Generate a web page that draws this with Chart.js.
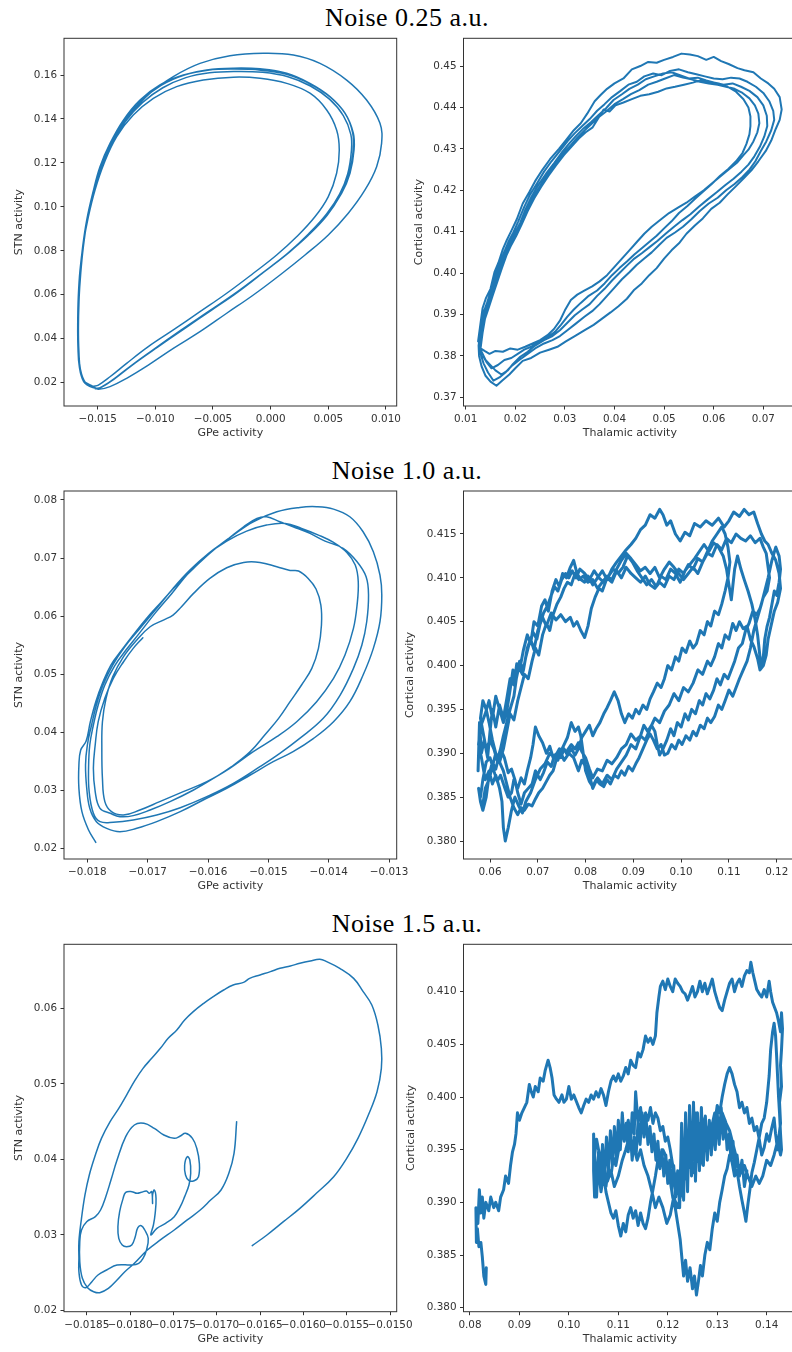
<!DOCTYPE html>
<html>
<head>
<meta charset="utf-8">
<script src="https://cdn.jsdelivr.net/npm/chart.js@4.4.0/dist/chart.umd.min.js"></script>
<style>
    html, body { margin: 0; padding: 0; background: #fff; overflow: hidden; }
    body { width: 792px; height: 1352px; position: relative; }
    .title { position: absolute; left: 0; width: 814px; text-align: center; font-family: "Liberation Serif", serif; font-size: 26px; line-height: 26px; letter-spacing: 0.5px; color: #000; }
    canvas { position: absolute; }
</style>
</head>
<body>
<div class="title" style="top:5px">Noise 0.25 a.u.</div>
<div class="title" style="top:458px">Noise 1.0 a.u.</div>
<div class="title" style="top:911px">Noise 1.5 a.u.</div>

<canvas id="p1" width="420" height="416" style="left:0;top:28px"></canvas>
<canvas id="p2" width="420" height="416" style="left:400px;top:28px"></canvas>
<canvas id="p3" width="420" height="416" style="left:0;top:481px"></canvas>
<canvas id="p4" width="420" height="416" style="left:400px;top:481px"></canvas>
<canvas id="p5" width="420" height="416" style="left:0;top:934px"></canvas>
<canvas id="p6" width="420" height="416" style="left:400px;top:934px"></canvas>

<script>
// ---- tick values ----
const ticksGpe025 = [-0.015, -0.010, -0.005, 0.000, 0.005, 0.010];
const ticksStn025 = [0.02, 0.04, 0.06, 0.08, 0.10, 0.12, 0.14, 0.16];
const ticksThal025 = [0.01, 0.02, 0.03, 0.04, 0.05, 0.06, 0.07];
const ticksCort025 = [0.37, 0.38, 0.39, 0.40, 0.41, 0.42, 0.43, 0.44, 0.45];
const ticksGpe100 = [-0.018, -0.017, -0.016, -0.015, -0.014, -0.013];
const ticksStn100 = [0.02, 0.03, 0.04, 0.05, 0.06, 0.07, 0.08];
const ticksThal100 = [0.06, 0.07, 0.08, 0.09, 0.10, 0.11, 0.12];
const ticksCort100 = [0.380, 0.385, 0.390, 0.395, 0.400, 0.405, 0.410, 0.415];
const ticksGpe150 = [-0.0185, -0.0180, -0.0175, -0.0170, -0.0165, -0.0160, -0.0155, -0.0150];
const ticksStn150 = [0.02, 0.03, 0.04, 0.05, 0.06];
const ticksThal150 = [0.08, 0.09, 0.10, 0.11, 0.12, 0.13, 0.14];
const ticksCort150 = [0.380, 0.385, 0.390, 0.395, 0.400, 0.405, 0.410];

// ---- noise 0.25: GPe vs STN (five loops) ----
const gpeStn025A = [[-0.01509,0.0174],[-0.01610,0.0197],[-0.01653,0.0258],[-0.01668,0.0349],[-0.01671,0.0455],[-0.01665,0.0576],[-0.01653,0.0698],[-0.01630,0.0819],[-0.01595,0.0940],[-0.01543,0.1062],[-0.01480,0.1183],[-0.01393,0.1289],[-0.01277,0.1395],[-0.01133,0.1486],[-0.00960,0.1555],[-0.00757,0.1600],[-0.00555,0.1623],[-0.00324,0.1631],[-0.00092,0.1628],[0.00139,0.1608],[0.00341,0.1562],[0.00514,0.1502],[0.00645,0.1426],[0.00717,0.1335],[0.00723,0.1259],[0.00688,0.1153],[0.00616,0.1062],[0.00500,0.0971],[0.00341,0.0880],[0.00168,0.0796],[-0.00035,0.0713],[-0.00266,0.0622],[-0.00497,0.0538],[-0.00728,0.0455],[-0.00960,0.0371],[-0.01162,0.0296],[-0.01335,0.0227],[-0.01451,0.0185],[-0.01509,0.0174]];
const gpeStn025B = [[-0.01610,0.0197],[-0.01653,0.0258],[-0.01665,0.0349],[-0.01668,0.0455],[-0.01662,0.0576],[-0.01647,0.0698],[-0.01624,0.0819],[-0.01590,0.0940],[-0.01538,0.1062],[-0.01465,0.1183],[-0.01364,0.1304],[-0.01220,0.1418],[-0.01046,0.1517],[-0.00844,0.1593],[-0.00613,0.1653],[-0.00353,0.1688],[-0.00064,0.1699],[0.00197,0.1691],[0.00428,0.1653],[0.00659,0.1577],[0.00832,0.1486],[0.00948,0.1380],[0.00962,0.1289],[0.00919,0.1183],[0.00818,0.1077],[0.00673,0.0971],[0.00500,0.0872],[0.00298,0.0781],[0.00081,0.0690],[-0.00150,0.0599],[-0.00381,0.0516],[-0.00613,0.0432],[-0.00844,0.0356],[-0.01061,0.0280],[-0.01249,0.0220],[-0.01393,0.0182],[-0.01494,0.0170]];
const gpeStn025C = [[-0.01538,0.0182],[-0.01624,0.0212],[-0.01659,0.0273],[-0.01671,0.0364],[-0.01673,0.0470],[-0.01668,0.0591],[-0.01653,0.0713],[-0.01624,0.0834],[-0.01581,0.0955],[-0.01523,0.1077],[-0.01445,0.1198],[-0.01335,0.1320],[-0.01191,0.1418],[-0.01017,0.1494],[-0.00815,0.1547],[-0.00584,0.1577],[-0.00324,0.1590],[-0.00092,0.1585],[0.00139,0.1562],[0.00341,0.1517],[0.00486,0.1441],[0.00572,0.1350],[0.00595,0.1259],[0.00572,0.1153],[0.00500,0.1047],[0.00384,0.0955],[0.00225,0.0864],[0.00052,0.0781],[-0.00150,0.0698],[-0.00381,0.0607],[-0.00613,0.0523],[-0.00844,0.0440],[-0.01061,0.0364],[-0.01249,0.0288],[-0.01393,0.0227],[-0.01494,0.0189],[-0.01538,0.0182]];
const gpeStn025D = [[-0.01523,0.0178],[-0.01605,0.0200],[-0.01650,0.0262],[-0.01665,0.0352],[-0.01668,0.0460],[-0.01662,0.0580],[-0.01648,0.0700],[-0.01625,0.0822],[-0.01588,0.0942],[-0.01535,0.1065],[-0.01470,0.1180],[-0.01380,0.1285],[-0.01260,0.1388],[-0.01110,0.1475],[-0.00935,0.1542],[-0.00735,0.1588],[-0.00530,0.1610],[-0.00300,0.1616],[-0.00070,0.1612],[0.00150,0.1592],[0.00345,0.1550],[0.00510,0.1490],[0.00630,0.1415],[0.00695,0.1330],[0.00700,0.1255],[0.00668,0.1150],[0.00598,0.1058],[0.00485,0.0968],[0.00330,0.0878],[0.00150,0.0790],[-0.00055,0.0705],[-0.00285,0.0612],[-0.00518,0.0528],[-0.00750,0.0445],[-0.00980,0.0362],[-0.01180,0.0288],[-0.01345,0.0222],[-0.01455,0.0184],[-0.01510,0.0175]];
const gpeStn025E = [[-0.01600,0.0195],[-0.01648,0.0255],[-0.01663,0.0345],[-0.01667,0.0450],[-0.01662,0.0570],[-0.01650,0.0692],[-0.01628,0.0812],[-0.01592,0.0935],[-0.01540,0.1058],[-0.01475,0.1178],[-0.01388,0.1286],[-0.01270,0.1392],[-0.01125,0.1482],[-0.00950,0.1553],[-0.00748,0.1600],[-0.00545,0.1622],[-0.00315,0.1627],[-0.00085,0.1622],[0.00145,0.1602],[0.00348,0.1558],[0.00520,0.1498],[0.00650,0.1422],[0.00712,0.1335],[0.00715,0.1255],[0.00680,0.1150],[0.00605,0.1055],[0.00490,0.0962],[0.00325,0.0870],[0.00140,0.0785],[-0.00070,0.0700],[-0.00305,0.0608],[-0.00545,0.0522],[-0.00775,0.0440],[-0.01005,0.0355],[-0.01200,0.0280],[-0.01360,0.0215],[-0.01465,0.0180],[-0.01520,0.0172]];

// ---- noise 0.25: thalamic vs cortical (five noisy loops) ----
const thalCort025A = [[0.0125,0.3835],[0.0130,0.3880],[0.0134,0.3915],[0.0141,0.3940],[0.0150,0.3962],[0.0158,0.4002],[0.0166,0.4025],[0.0175,0.4058],[0.0183,0.4080],[0.0192,0.4102],[0.0203,0.4130],[0.0215,0.4168],[0.0228,0.4195],[0.0240,0.4222],[0.0255,0.4250],[0.0270,0.4275],[0.0288,0.4300],[0.0303,0.4322],[0.0318,0.4345],[0.0332,0.4362],[0.0345,0.4385],[0.0360,0.4415],[0.0372,0.4430],[0.0385,0.4445],[0.0400,0.4458],[0.0418,0.4470],[0.0435,0.4492],[0.0452,0.4500],[0.0468,0.4510],[0.0485,0.4508],[0.0500,0.4515],[0.0518,0.4522],[0.0535,0.4530],[0.0552,0.4528],[0.0568,0.4524],[0.0585,0.4515],[0.0600,0.4522],[0.0615,0.4512],[0.0630,0.4505],[0.0648,0.4495],[0.0662,0.4490],[0.0680,0.4485],[0.0695,0.4470],[0.0710,0.4458],[0.0722,0.4445],[0.0733,0.4425],[0.0737,0.4395],[0.0733,0.4370],[0.0725,0.4348],[0.0716,0.4320],[0.0705,0.4295],[0.0690,0.4270],[0.0676,0.4248],[0.0660,0.4228],[0.0645,0.4210],[0.0628,0.4190],[0.0612,0.4170],[0.0595,0.4155],[0.0578,0.4132],[0.0562,0.4115],[0.0545,0.4095],[0.0530,0.4072],[0.0515,0.4055],[0.0500,0.4035],[0.0485,0.4012],[0.0470,0.3995],[0.0455,0.3975],[0.0440,0.3960],[0.0425,0.3938],[0.0408,0.3920],[0.0392,0.3905],[0.0375,0.3890],[0.0358,0.3875],[0.0340,0.3862],[0.0320,0.3848],[0.0302,0.3835],[0.0285,0.3822],[0.0268,0.3815],[0.0250,0.3808],[0.0232,0.3795],[0.0215,0.3788],[0.0200,0.3770],[0.0188,0.3755],[0.0175,0.3742],[0.0162,0.3728],[0.0150,0.3738],[0.0140,0.3752],[0.0132,0.3775],[0.0127,0.3800],[0.0126,0.3825]];
const thalCort025B = [[0.0131,0.3868],[0.0136,0.3905],[0.0143,0.3928],[0.0151,0.3958],[0.0160,0.3995],[0.0168,0.4020],[0.0178,0.4052],[0.0186,0.4075],[0.0196,0.4098],[0.0206,0.4125],[0.0218,0.4160],[0.0230,0.4190],[0.0243,0.4215],[0.0258,0.4245],[0.0273,0.4270],[0.0290,0.4295],[0.0305,0.4318],[0.0320,0.4338],[0.0335,0.4355],[0.0350,0.4372],[0.0365,0.4392],[0.0380,0.4408],[0.0395,0.4425],[0.0412,0.4440],[0.0428,0.4455],[0.0445,0.4462],[0.0460,0.4475],[0.0478,0.4482],[0.0495,0.4478],[0.0512,0.4488],[0.0530,0.4492],[0.0548,0.4485],[0.0565,0.4480],[0.0582,0.4475],[0.0600,0.4470],[0.0618,0.4468],[0.0635,0.4472],[0.0652,0.4470],[0.0668,0.4462],[0.0685,0.4450],[0.0700,0.4435],[0.0712,0.4415],[0.0720,0.4392],[0.0722,0.4370],[0.0716,0.4345],[0.0706,0.4318],[0.0695,0.4295],[0.0684,0.4270],[0.0672,0.4250],[0.0658,0.4232],[0.0642,0.4215],[0.0625,0.4200],[0.0608,0.4182],[0.0590,0.4168],[0.0572,0.4150],[0.0555,0.4130],[0.0538,0.4112],[0.0522,0.4098],[0.0505,0.4085],[0.0490,0.4068],[0.0475,0.4050],[0.0460,0.4035],[0.0445,0.4020],[0.0430,0.4002],[0.0415,0.3985],[0.0400,0.3965],[0.0385,0.3945],[0.0370,0.3925],[0.0355,0.3908],[0.0340,0.3895],[0.0322,0.3878],[0.0305,0.3862],[0.0290,0.3848],[0.0275,0.3838],[0.0258,0.3830],[0.0240,0.3818],[0.0222,0.3802],[0.0208,0.3790],[0.0192,0.3775],[0.0180,0.3760],[0.0168,0.3748],[0.0156,0.3740],[0.0145,0.3760],[0.0136,0.3782],[0.0130,0.3805],[0.0127,0.3822]];
const thalCort025C = [[0.0132,0.3860],[0.0137,0.3898],[0.0145,0.3925],[0.0153,0.3955],[0.0162,0.3990],[0.0170,0.4018],[0.0180,0.4048],[0.0189,0.4072],[0.0199,0.4095],[0.0210,0.4122],[0.0221,0.4155],[0.0233,0.4185],[0.0246,0.4212],[0.0262,0.4240],[0.0278,0.4265],[0.0293,0.4290],[0.0308,0.4312],[0.0323,0.4332],[0.0338,0.4350],[0.0353,0.4365],[0.0368,0.4382],[0.0383,0.4398],[0.0398,0.4418],[0.0415,0.4432],[0.0430,0.4445],[0.0447,0.4455],[0.0463,0.4468],[0.0480,0.4475],[0.0498,0.4482],[0.0515,0.4485],[0.0532,0.4478],[0.0550,0.4470],[0.0568,0.4472],[0.0585,0.4465],[0.0602,0.4460],[0.0620,0.4455],[0.0638,0.4458],[0.0655,0.4450],[0.0672,0.4440],[0.0688,0.4425],[0.0700,0.4405],[0.0707,0.4380],[0.0708,0.4355],[0.0702,0.4330],[0.0693,0.4305],[0.0682,0.4282],[0.0670,0.4262],[0.0656,0.4245],[0.0640,0.4228],[0.0623,0.4212],[0.0606,0.4195],[0.0588,0.4178],[0.0570,0.4160],[0.0553,0.4142],[0.0537,0.4128],[0.0520,0.4112],[0.0503,0.4095],[0.0487,0.4078],[0.0470,0.4062],[0.0455,0.4048],[0.0440,0.4035],[0.0425,0.4018],[0.0410,0.4000],[0.0395,0.3982],[0.0380,0.3962],[0.0365,0.3945],[0.0350,0.3925],[0.0335,0.3912],[0.0320,0.3898],[0.0305,0.3880],[0.0290,0.3862],[0.0275,0.3848],[0.0258,0.3838],[0.0240,0.3825],[0.0225,0.3810],[0.0210,0.3798],[0.0195,0.3780],[0.0185,0.3765],[0.0172,0.3755],[0.0160,0.3765],[0.0148,0.3780],[0.0140,0.3790],[0.0133,0.3808],[0.0128,0.3820]];
const thalCort025D = [[0.0133,0.3858],[0.0138,0.3895],[0.0146,0.3922],[0.0154,0.3952],[0.0163,0.3985],[0.0172,0.4015],[0.0181,0.4045],[0.0191,0.4070],[0.0201,0.4093],[0.0212,0.4120],[0.0223,0.4152],[0.0236,0.4182],[0.0250,0.4210],[0.0265,0.4238],[0.0280,0.4262],[0.0296,0.4288],[0.0311,0.4308],[0.0326,0.4328],[0.0340,0.4345],[0.0355,0.4362],[0.0370,0.4378],[0.0385,0.4392],[0.0400,0.4408],[0.0417,0.4420],[0.0433,0.4432],[0.0450,0.4442],[0.0468,0.4455],[0.0485,0.4462],[0.0502,0.4470],[0.0520,0.4478],[0.0538,0.4472],[0.0555,0.4468],[0.0572,0.4462],[0.0590,0.4458],[0.0608,0.4455],[0.0625,0.4450],[0.0642,0.4445],[0.0658,0.4435],[0.0672,0.4422],[0.0683,0.4405],[0.0690,0.4385],[0.0692,0.4362],[0.0688,0.4340],[0.0680,0.4318],[0.0670,0.4298],[0.0660,0.4285],[0.0648,0.4268],[0.0632,0.4252],[0.0615,0.4235],[0.0598,0.4218],[0.0580,0.4200],[0.0562,0.4185],[0.0545,0.4170],[0.0528,0.4158],[0.0510,0.4145],[0.0492,0.4128],[0.0475,0.4112],[0.0460,0.4095],[0.0445,0.4075],[0.0430,0.4055],[0.0415,0.4035],[0.0400,0.4015],[0.0385,0.3995],[0.0370,0.3980],[0.0355,0.3968],[0.0340,0.3958],[0.0325,0.3948],[0.0312,0.3935],[0.0300,0.3910],[0.0290,0.3885],[0.0278,0.3865],[0.0265,0.3850],[0.0250,0.3838],[0.0235,0.3830],[0.0220,0.3822],[0.0205,0.3815],[0.0190,0.3818],[0.0175,0.3810],[0.0160,0.3812],[0.0148,0.3805],[0.0138,0.3812],[0.0130,0.3818]];
const thalCort025E = [[0.0134,0.3855],[0.0139,0.3890],[0.0147,0.3918],[0.0155,0.3948],[0.0164,0.3980],[0.0173,0.4012],[0.0182,0.4042],[0.0192,0.4068],[0.0202,0.4090],[0.0213,0.4118],[0.0225,0.4150],[0.0238,0.4180],[0.0252,0.4208],[0.0267,0.4235],[0.0282,0.4260],[0.0298,0.4285],[0.0313,0.4305],[0.0328,0.4325],[0.0342,0.4340],[0.0356,0.4352],[0.0368,0.4375],[0.0378,0.4395],[0.0390,0.4390],[0.0402,0.4405],[0.0418,0.4412],[0.0435,0.4420],[0.0452,0.4428],[0.0470,0.4432],[0.0488,0.4438],[0.0505,0.4446],[0.0522,0.4450],[0.0540,0.4455],[0.0558,0.4460],[0.0575,0.4466],[0.0592,0.4462],[0.0610,0.4458],[0.0628,0.4450],[0.0645,0.4438],[0.0660,0.4420],[0.0670,0.4400],[0.0674,0.4378],[0.0674,0.4355],[0.0672,0.4335],[0.0666,0.4312],[0.0658,0.4290],[0.0645,0.4270],[0.0630,0.4252],[0.0613,0.4235],[0.0596,0.4215],[0.0580,0.4198],[0.0563,0.4180],[0.0547,0.4162],[0.0530,0.4145],[0.0515,0.4125],[0.0500,0.4108],[0.0485,0.4090],[0.0470,0.4075],[0.0455,0.4060],[0.0440,0.4045],[0.0425,0.4028],[0.0410,0.4012],[0.0395,0.3995],[0.0380,0.3975],[0.0365,0.3958],[0.0348,0.3945],[0.0332,0.3928],[0.0318,0.3912],[0.0305,0.3895],[0.0292,0.3875],[0.0280,0.3858],[0.0265,0.3845],[0.0248,0.3835],[0.0232,0.3822],[0.0218,0.3815],[0.0205,0.3805],[0.0192,0.3795],[0.0178,0.3790],[0.0165,0.3778],[0.0152,0.3770],[0.0142,0.3785],[0.0135,0.3800]];

// ---- noise 1.0: GPe vs STN (one trajectory) ----
const gpeStn100 = [[-0.01786,0.02103],[-0.01798,0.02316],[-0.01809,0.02631],[-0.01814,0.03033],[-0.01814,0.03435],[-0.01811,0.03693],[-0.01802,0.03848],[-0.01795,0.04181],[-0.01786,0.04526],[-0.01775,0.04841],[-0.01761,0.05157],[-0.01743,0.05415],[-0.01724,0.05674],[-0.01702,0.05961],[-0.01677,0.06248],[-0.01652,0.06535],[-0.01624,0.06822],[-0.01591,0.07137],[-0.01558,0.07396],[-0.01525,0.07625],[-0.01486,0.07797],[-0.01448,0.07872],[-0.01420,0.07884],[-0.01392,0.07843],[-0.01365,0.07711],[-0.01343,0.07453],[-0.01326,0.07109],[-0.01315,0.06707],[-0.01312,0.06362],[-0.01315,0.05903],[-0.01326,0.05444],[-0.01343,0.04985],[-0.01365,0.04526],[-0.01392,0.04181],[-0.01425,0.03894],[-0.01459,0.03665],[-0.01492,0.03492],[-0.01530,0.03263],[-0.01569,0.03033],[-0.01608,0.02832],[-0.01646,0.02631],[-0.01685,0.02459],[-0.01718,0.02344],[-0.01746,0.02287],[-0.01768,0.02344],[-0.01785,0.02459],[-0.01796,0.02689],[-0.01801,0.03033],[-0.01803,0.03435],[-0.01800,0.03779],[-0.01793,0.04124],[-0.01785,0.04468],[-0.01774,0.04813],[-0.01758,0.05157],[-0.01738,0.05473],[-0.01713,0.05788],[-0.01685,0.06133],[-0.01658,0.06477],[-0.01630,0.06793],[-0.01599,0.07080],[-0.01569,0.07310],[-0.01541,0.07539],[-0.01519,0.07683],[-0.01503,0.07711],[-0.01481,0.07625],[-0.01459,0.07539],[-0.01431,0.07424],[-0.01406,0.07292],[-0.01376,0.07166],[-0.01353,0.06936],[-0.01338,0.06678],[-0.01334,0.06362],[-0.01337,0.05903],[-0.01345,0.05502],[-0.01359,0.05100],[-0.01381,0.04640],[-0.01409,0.04239],[-0.01448,0.03894],[-0.01481,0.03636],[-0.01514,0.03406],[-0.01558,0.03119],[-0.01602,0.02890],[-0.01646,0.02700],[-0.01685,0.02574],[-0.01724,0.02488],[-0.01757,0.02448],[-0.01779,0.02459],[-0.01790,0.02603],[-0.01797,0.02976],[-0.01798,0.03378],[-0.01796,0.03779],[-0.01790,0.04124],[-0.01782,0.04468],[-0.01771,0.04813],[-0.01755,0.05140],[-0.01736,0.05415],[-0.01714,0.05702],[-0.01688,0.06047],[-0.01660,0.06391],[-0.01633,0.06736],[-0.01602,0.07051],[-0.01569,0.07292],[-0.01536,0.07464],[-0.01503,0.07568],[-0.01472,0.07597],[-0.01445,0.07510],[-0.01417,0.07396],[-0.01392,0.07269],[-0.01370,0.07097],[-0.01356,0.06879],[-0.01351,0.06592],[-0.01353,0.06190],[-0.01359,0.05788],[-0.01373,0.05329],[-0.01392,0.04927],[-0.01420,0.04526],[-0.01453,0.04181],[-0.01486,0.03923],[-0.01525,0.03665],[-0.01564,0.03378],[-0.01602,0.03148],[-0.01641,0.02976],[-0.01680,0.02804],[-0.01713,0.02660],[-0.01740,0.02574],[-0.01760,0.02631],[-0.01771,0.02804],[-0.01775,0.03205],[-0.01776,0.03722],[-0.01775,0.04181],[-0.01769,0.04583],[-0.01758,0.04956],[-0.01740,0.05301],[-0.01718,0.05588],[-0.01696,0.05817],[-0.01674,0.05932],[-0.01658,0.06018],[-0.01644,0.06162],[-0.01624,0.06391],[-0.01597,0.06649],[-0.01569,0.06833],[-0.01541,0.06925],[-0.01514,0.06925],[-0.01486,0.06850],[-0.01464,0.06787],[-0.01450,0.06776],[-0.01434,0.06649],[-0.01421,0.06466],[-0.01413,0.06190],[-0.01412,0.05846],[-0.01417,0.05444],[-0.01428,0.05100],[-0.01445,0.04813],[-0.01464,0.04526],[-0.01483,0.04239],[-0.01506,0.03952],[-0.01530,0.03665],[-0.01561,0.03406],[-0.01591,0.03205],[-0.01624,0.03005],[-0.01663,0.02804],[-0.01696,0.02660],[-0.01724,0.02563],[-0.01746,0.02545],[-0.01762,0.02603],[-0.01779,0.02689],[-0.01787,0.02976],[-0.01790,0.03378],[-0.01787,0.03779],[-0.01782,0.04181],[-0.01771,0.04583],[-0.01757,0.04927],[-0.01740,0.05214],[-0.01724,0.05444],[-0.01708,0.05628]];

// ---- noise 1.0: thalamic vs cortical (four noisy loops) ----
const thalCort100A = [[0.0575,0.3880],[0.0578,0.3935],[0.0582,0.3900],[0.0588,0.3915],[0.0595,0.3895],[0.0600,0.3925],[0.0605,0.3950],[0.0612,0.3930],[0.0620,0.3955],[0.0628,0.3940],[0.0635,0.3962],[0.0642,0.3985],[0.0650,0.3978],[0.0656,0.4002],[0.0662,0.3995],[0.0670,0.4018],[0.0678,0.4035],[0.0685,0.4025],[0.0692,0.4050],[0.0700,0.4045],[0.0708,0.4068],[0.0715,0.4075],[0.0722,0.4062],[0.0730,0.4085],[0.0738,0.4098],[0.0745,0.4090],[0.0752,0.4105],[0.0760,0.4100],[0.0768,0.4112],[0.0775,0.4120],[0.0782,0.4105],[0.0790,0.4098],[0.0798,0.4095],[0.0805,0.4102],[0.0815,0.4092],[0.0825,0.4100],[0.0835,0.4108],[0.0845,0.4098],[0.0855,0.4110],[0.0865,0.4118],[0.0875,0.4125],[0.0885,0.4132],[0.0895,0.4138],[0.0905,0.4145],[0.0915,0.4155],[0.0925,0.4160],[0.0935,0.4172],[0.0945,0.4168],[0.0955,0.4178],[0.0962,0.4172],[0.0970,0.4160],[0.0978,0.4165],[0.0988,0.4150],[0.0998,0.4142],[0.1008,0.4152],[0.1018,0.4148],[0.1028,0.4162],[0.1040,0.4158],[0.1052,0.4165],[0.1065,0.4160],[0.1078,0.4168],[0.1090,0.4158],[0.1100,0.4165],[0.1110,0.4175],[0.1122,0.4170],[0.1132,0.4178],[0.1142,0.4172],[0.1152,0.4175],[0.1160,0.4162],[0.1168,0.4150],[0.1175,0.4142],[0.1182,0.4138],[0.1190,0.4128],[0.1198,0.4120],[0.1205,0.4105],[0.1208,0.4088],[0.1202,0.4072],[0.1195,0.4062],[0.1188,0.4045],[0.1182,0.4030],[0.1178,0.4012],[0.1172,0.4000],[0.1165,0.3995],[0.1160,0.4008],[0.1152,0.4022],[0.1145,0.4030],[0.1138,0.4045],[0.1130,0.4042],[0.1122,0.4050],[0.1115,0.4040],[0.1108,0.4048],[0.1100,0.4030],[0.1092,0.4035],[0.1085,0.4020],[0.1078,0.4025],[0.1070,0.4010],[0.1062,0.4000],[0.1055,0.4005],[0.1045,0.3990],[0.1035,0.3995],[0.1025,0.3980],[0.1015,0.3970],[0.1005,0.3975],[0.0995,0.3960],[0.0985,0.3968],[0.0975,0.3955],[0.0965,0.3948],[0.0955,0.3935],[0.0945,0.3940],[0.0935,0.3928],[0.0925,0.3915],[0.0915,0.3920],[0.0905,0.3905],[0.0895,0.3910],[0.0885,0.3898],[0.0875,0.3890],[0.0865,0.3882],[0.0855,0.3870],[0.0845,0.3875],[0.0835,0.3865],[0.0825,0.3872],[0.0815,0.3860],[0.0808,0.3875],[0.0800,0.3885],[0.0792,0.3892],[0.0785,0.3880],[0.0775,0.3895],[0.0765,0.3900],[0.0755,0.3892],[0.0745,0.3905],[0.0735,0.3895],[0.0725,0.3900],[0.0715,0.3888],[0.0705,0.3882],[0.0695,0.3870],[0.0685,0.3855],[0.0675,0.3845],[0.0668,0.3832],[0.0660,0.3840],[0.0652,0.3850],[0.0645,0.3835],[0.0638,0.3815],[0.0632,0.3800],[0.0628,0.3815],[0.0625,0.3845],[0.0620,0.3860],[0.0612,0.3875],[0.0605,0.3865],[0.0598,0.3880],[0.0590,0.3870],[0.0582,0.3895],[0.0576,0.3910]];
const thalCort100B = [[0.0580,0.3930],[0.0590,0.3945],[0.0598,0.3960],[0.0605,0.3940],[0.0612,0.3965],[0.0620,0.3950],[0.0628,0.3935],[0.0635,0.3948],[0.0642,0.3972],[0.0648,0.3995],[0.0655,0.3988],[0.0662,0.4005],[0.0670,0.3995],[0.0678,0.4020],[0.0685,0.4030],[0.0692,0.4018],[0.0700,0.4040],[0.0710,0.4055],[0.0718,0.4045],[0.0728,0.4060],[0.0738,0.4052],[0.0748,0.4058],[0.0758,0.4050],[0.0768,0.4055],[0.0775,0.4045],[0.0782,0.4050],[0.0790,0.4040],[0.0798,0.4032],[0.0805,0.4045],[0.0812,0.4065],[0.0820,0.4078],[0.0828,0.4088],[0.0835,0.4085],[0.0845,0.4100],[0.0855,0.4095],[0.0865,0.4108],[0.0875,0.4100],[0.0885,0.4112],[0.0895,0.4105],[0.0905,0.4100],[0.0915,0.4095],[0.0925,0.4102],[0.0935,0.4092],[0.0945,0.4088],[0.0955,0.4095],[0.0965,0.4090],[0.0975,0.4102],[0.0985,0.4098],[0.0995,0.4110],[0.1005,0.4105],[0.1015,0.4115],[0.1025,0.4110],[0.1035,0.4122],[0.1045,0.4118],[0.1055,0.4128],[0.1065,0.4125],[0.1075,0.4138],[0.1085,0.4132],[0.1095,0.4145],[0.1105,0.4140],[0.1115,0.4150],[0.1125,0.4145],[0.1135,0.4142],[0.1145,0.4148],[0.1155,0.4140],[0.1165,0.4145],[0.1172,0.4135],[0.1178,0.4128],[0.1182,0.4112],[0.1185,0.4100],[0.1180,0.4085],[0.1172,0.4078],[0.1165,0.4065],[0.1158,0.4058],[0.1150,0.4062],[0.1142,0.4048],[0.1135,0.4040],[0.1128,0.4025],[0.1120,0.4020],[0.1112,0.4005],[0.1105,0.3995],[0.1098,0.3985],[0.1090,0.3990],[0.1082,0.3978],[0.1075,0.3985],[0.1068,0.3972],[0.1060,0.3962],[0.1052,0.3968],[0.1045,0.3955],[0.1038,0.3960],[0.1030,0.3945],[0.1022,0.3950],[0.1015,0.3938],[0.1008,0.3945],[0.1000,0.3930],[0.0992,0.3935],[0.0985,0.3920],[0.0978,0.3928],[0.0970,0.3915],[0.0962,0.3905],[0.0955,0.3898],[0.0950,0.3910],[0.0945,0.3925],[0.0938,0.3932],[0.0930,0.3925],[0.0922,0.3932],[0.0915,0.3920],[0.0905,0.3915],[0.0895,0.3922],[0.0885,0.3910],[0.0875,0.3905],[0.0865,0.3895],[0.0855,0.3888],[0.0845,0.3892],[0.0835,0.3880],[0.0825,0.3882],[0.0815,0.3872],[0.0808,0.3882],[0.0800,0.3895],[0.0792,0.3902],[0.0785,0.3912],[0.0778,0.3905],[0.0770,0.3910],[0.0760,0.3902],[0.0750,0.3905],[0.0742,0.3892],[0.0735,0.3898],[0.0728,0.3885],[0.0720,0.3890],[0.0712,0.3878],[0.0705,0.3870],[0.0695,0.3880],[0.0688,0.3865],[0.0680,0.3860],[0.0672,0.3855],[0.0665,0.3842],[0.0658,0.3855],[0.0652,0.3870],[0.0645,0.3882],[0.0638,0.3878],[0.0630,0.3895],[0.0622,0.3905],[0.0615,0.3892],[0.0608,0.3905],[0.0600,0.3915],[0.0592,0.3905],[0.0585,0.3925],[0.0580,0.3940]];
const thalCort100C = [[0.0585,0.3960],[0.0592,0.3950],[0.0598,0.3935],[0.0605,0.3915],[0.0612,0.3900],[0.0620,0.3890],[0.0628,0.3905],[0.0635,0.3925],[0.0642,0.3945],[0.0650,0.3938],[0.0658,0.3960],[0.0665,0.3975],[0.0672,0.3990],[0.0680,0.3985],[0.0688,0.4005],[0.0695,0.4020],[0.0702,0.4012],[0.0710,0.4035],[0.0718,0.4048],[0.0725,0.4040],[0.0732,0.4058],[0.0740,0.4070],[0.0748,0.4078],[0.0755,0.4088],[0.0762,0.4095],[0.0770,0.4092],[0.0778,0.4105],[0.0786,0.4098],[0.0795,0.4102],[0.0805,0.4095],[0.0815,0.4098],[0.0825,0.4088],[0.0835,0.4095],[0.0845,0.4102],[0.0855,0.4098],[0.0865,0.4110],[0.0875,0.4120],[0.0885,0.4128],[0.0895,0.4122],[0.0905,0.4115],[0.0915,0.4108],[0.0925,0.4112],[0.0935,0.4105],[0.0945,0.4112],[0.0955,0.4100],[0.0965,0.4110],[0.0975,0.4118],[0.0985,0.4112],[0.0995,0.4105],[0.1005,0.4098],[0.1015,0.4105],[0.1025,0.4112],[0.1035,0.4105],[0.1045,0.4118],[0.1055,0.4130],[0.1065,0.4142],[0.1075,0.4150],[0.1085,0.4158],[0.1092,0.4150],[0.1098,0.4135],[0.1102,0.4118],[0.1098,0.4100],[0.1092,0.4085],[0.1085,0.4070],[0.1078,0.4058],[0.1070,0.4062],[0.1062,0.4045],[0.1055,0.4050],[0.1048,0.4035],[0.1040,0.4040],[0.1032,0.4025],[0.1025,0.4020],[0.1018,0.4028],[0.1010,0.4015],[0.1002,0.4020],[0.0995,0.4005],[0.0988,0.4010],[0.0980,0.3995],[0.0972,0.4000],[0.0965,0.3985],[0.0958,0.3975],[0.0950,0.3980],[0.0942,0.3970],[0.0935,0.3962],[0.0928,0.3950],[0.0920,0.3955],[0.0912,0.3945],[0.0905,0.3950],[0.0898,0.3940],[0.0890,0.3945],[0.0882,0.3935],[0.0875,0.3945],[0.0868,0.3960],[0.0860,0.3970],[0.0852,0.3960],[0.0845,0.3952],[0.0838,0.3945],[0.0830,0.3935],[0.0822,0.3928],[0.0815,0.3920],[0.0808,0.3932],[0.0800,0.3925],[0.0792,0.3918],[0.0785,0.3905],[0.0778,0.3898],[0.0770,0.3905],[0.0762,0.3898],[0.0755,0.3905],[0.0748,0.3895],[0.0740,0.3900],[0.0732,0.3895],[0.0725,0.3908],[0.0718,0.3900],[0.0710,0.3912],[0.0702,0.3920],[0.0695,0.3930],[0.0690,0.3910],[0.0685,0.3895],[0.0678,0.3880],[0.0672,0.3865],[0.0665,0.3872],[0.0658,0.3860],[0.0650,0.3870],[0.0645,0.3855],[0.0638,0.3850],[0.0630,0.3862],[0.0622,0.3875],[0.0615,0.3868],[0.0608,0.3880],[0.0600,0.3895],[0.0592,0.3890],[0.0585,0.3870],[0.0580,0.3850],[0.0576,0.3860]];
const thalCort100D = [[0.0580,0.3845],[0.0585,0.3835],[0.0592,0.3850],[0.0598,0.3875],[0.0605,0.3890],[0.0612,0.3882],[0.0620,0.3900],[0.0628,0.3920],[0.0635,0.3935],[0.0642,0.3950],[0.0650,0.3965],[0.0655,0.3985],[0.0660,0.3998],[0.0668,0.3990],[0.0675,0.4010],[0.0682,0.4025],[0.0690,0.4038],[0.0698,0.4030],[0.0705,0.4048],[0.0712,0.4060],[0.0720,0.4068],[0.0728,0.4080],[0.0735,0.4090],[0.0742,0.4085],[0.0750,0.4098],[0.0758,0.4105],[0.0765,0.4100],[0.0772,0.4108],[0.0780,0.4100],[0.0788,0.4110],[0.0798,0.4105],[0.0808,0.4098],[0.0818,0.4108],[0.0828,0.4100],[0.0838,0.4095],[0.0848,0.4102],[0.0858,0.4110],[0.0868,0.4105],[0.0878,0.4112],[0.0888,0.4125],[0.0898,0.4118],[0.0908,0.4108],[0.0918,0.4100],[0.0928,0.4092],[0.0938,0.4098],[0.0948,0.4090],[0.0958,0.4102],[0.0968,0.4098],[0.0978,0.4110],[0.0988,0.4105],[0.0998,0.4095],[0.1008,0.4108],[0.1018,0.4115],[0.1028,0.4122],[0.1038,0.4130],[0.1048,0.4138],[0.1058,0.4130],[0.1068,0.4140],[0.1078,0.4135],[0.1088,0.4125],[0.1095,0.4110],[0.1100,0.4092],[0.1105,0.4075],[0.1108,0.4090],[0.1112,0.4110],[0.1118,0.4125],[0.1125,0.4110],[0.1132,0.4098],[0.1140,0.4085],[0.1148,0.4070],[0.1155,0.4052],[0.1160,0.4035],[0.1165,0.4010],[0.1168,0.3998],[0.1172,0.4010],[0.1175,0.4030],[0.1180,0.4045],[0.1185,0.4055],[0.1190,0.4070],[0.1195,0.4085],[0.1200,0.4080],[0.1205,0.4095],[0.1208,0.4110],[0.1205,0.4125],[0.1198,0.4135],[0.1190,0.4120],[0.1182,0.4100],[0.1175,0.4085],[0.1168,0.4070],[0.1160,0.4055],[0.1152,0.4040],[0.1145,0.4020],[0.1138,0.4005],[0.1130,0.3995],[0.1122,0.3985],[0.1115,0.3975],[0.1108,0.3965],[0.1100,0.3972],[0.1092,0.3960],[0.1085,0.3950],[0.1078,0.3955],[0.1070,0.3942],[0.1062,0.3935],[0.1055,0.3940],[0.1048,0.3928],[0.1040,0.3932],[0.1032,0.3920],[0.1025,0.3925],[0.1018,0.3915],[0.1010,0.3920],[0.1002,0.3910],[0.0995,0.3915],[0.0988,0.3905],[0.0980,0.3910],[0.0972,0.3900],[0.0965,0.3898],[0.0958,0.3910],[0.0950,0.3905],[0.0942,0.3915],[0.0935,0.3922],[0.0928,0.3915],[0.0920,0.3905],[0.0912,0.3895],[0.0905,0.3888],[0.0898,0.3880],[0.0890,0.3885],[0.0882,0.3875],[0.0875,0.3880],[0.0868,0.3872],[0.0860,0.3875],[0.0852,0.3865],[0.0845,0.3870],[0.0838,0.3862],[0.0830,0.3865],[0.0822,0.3870],[0.0815,0.3862],[0.0808,0.3868],[0.0800,0.3880],[0.0795,0.3900],[0.0790,0.3920],[0.0785,0.3930],[0.0778,0.3925],[0.0770,0.3935],[0.0762,0.3918],[0.0755,0.3910],[0.0748,0.3902],[0.0740,0.3895],[0.0732,0.3880],[0.0725,0.3875],[0.0718,0.3868],[0.0710,0.3860],[0.0702,0.3855],[0.0695,0.3848],[0.0688,0.3840],[0.0680,0.3842],[0.0672,0.3835],[0.0665,0.3838],[0.0658,0.3830],[0.0650,0.3838],[0.0642,0.3850],[0.0635,0.3865],[0.0628,0.3880],[0.0620,0.3890],[0.0612,0.3900],[0.0605,0.3885],[0.0598,0.3870],[0.0590,0.3860],[0.0584,0.3838],[0.0580,0.3845]];

// ---- noise 1.5: GPe vs STN (one trajectory) ----
const gpeStn150 = [[-0.01677,0.04499],[-0.01680,0.04079],[-0.01686,0.03815],[-0.01695,0.03594],[-0.01707,0.03461],[-0.01719,0.03329],[-0.01734,0.03197],[-0.01749,0.03064],[-0.01765,0.02932],[-0.01780,0.02799],[-0.01795,0.02623],[-0.01806,0.02512],[-0.01815,0.02402],[-0.01825,0.02291],[-0.01835,0.02234],[-0.01842,0.02247],[-0.01849,0.02300],[-0.01855,0.02424],[-0.01858,0.02645],[-0.01858,0.02909],[-0.01856,0.03064],[-0.01850,0.03174],[-0.01840,0.03241],[-0.01834,0.03329],[-0.01828,0.03506],[-0.01822,0.03726],[-0.01815,0.03991],[-0.01805,0.04300],[-0.01795,0.04455],[-0.01784,0.04477],[-0.01772,0.04411],[-0.01761,0.04322],[-0.01749,0.04278],[-0.01742,0.04309],[-0.01736,0.04344],[-0.01728,0.04278],[-0.01723,0.04146],[-0.01720,0.03947],[-0.01721,0.03770],[-0.01726,0.03717],[-0.01732,0.03717],[-0.01736,0.03793],[-0.01737,0.03925],[-0.01734,0.04035],[-0.01731,0.03991],[-0.01730,0.03815],[-0.01732,0.03660],[-0.01737,0.03506],[-0.01742,0.03373],[-0.01749,0.03241],[-0.01759,0.03152],[-0.01769,0.03086],[-0.01776,0.02998],[-0.01773,0.03130],[-0.01771,0.03285],[-0.01770,0.03483],[-0.01772,0.03594],[-0.01774,0.03528],[-0.01774,0.03417],[-0.01775,0.03572],[-0.01778,0.03550],[-0.01781,0.03581],[-0.01787,0.03563],[-0.01792,0.03550],[-0.01798,0.03572],[-0.01805,0.03563],[-0.01808,0.03483],[-0.01812,0.03307],[-0.01814,0.03108],[-0.01813,0.02954],[-0.01809,0.02865],[-0.01804,0.02843],[-0.01798,0.02865],[-0.01794,0.02976],[-0.01791,0.03095],[-0.01787,0.03121],[-0.01783,0.03064],[-0.01779,0.02954],[-0.01781,0.02799],[-0.01785,0.02689],[-0.01790,0.02623],[-0.01798,0.02600],[-0.01815,0.02600],[-0.01827,0.02534],[-0.01837,0.02468],[-0.01844,0.02380],[-0.01851,0.02300],[-0.01856,0.02336],[-0.01859,0.02512],[-0.01859,0.02689],[-0.01859,0.02909],[-0.01856,0.03219],[-0.01852,0.03528],[-0.01847,0.03793],[-0.01840,0.04057],[-0.01833,0.04278],[-0.01823,0.04499],[-0.01813,0.04675],[-0.01804,0.04852],[-0.01794,0.05051],[-0.01785,0.05205],[-0.01775,0.05338],[-0.01765,0.05470],[-0.01756,0.05603],[-0.01746,0.05713],[-0.01737,0.05845],[-0.01727,0.05956],[-0.01715,0.06066],[-0.01704,0.06155],[-0.01692,0.06243],[-0.01681,0.06309],[-0.01669,0.06344],[-0.01662,0.06397],[-0.01650,0.06442],[-0.01638,0.06486],[-0.01627,0.06530],[-0.01615,0.06561],[-0.01604,0.06596],[-0.01592,0.06627],[-0.01581,0.06649],[-0.01573,0.06618],[-0.01558,0.06530],[-0.01542,0.06397],[-0.01531,0.06221],[-0.01521,0.06044],[-0.01514,0.05779],[-0.01510,0.05470],[-0.01510,0.05205],[-0.01515,0.04896],[-0.01525,0.04587],[-0.01537,0.04278],[-0.01550,0.04013],[-0.01565,0.03770],[-0.01585,0.03550],[-0.01604,0.03351],[-0.01623,0.03174],[-0.01642,0.02998],[-0.01659,0.02857]];

// ---- noise 1.5: thalamic vs cortical (one long noisy trajectory, in parts) ----
const thalCort150A = [[0.0833,0.3838],[0.0832,0.3822],[0.0828,0.3830],[0.0825,0.3848],[0.0822,0.3862],[0.0818,0.3858],[0.0815,0.3875],[0.0813,0.3862],[0.0812,0.3895],[0.0816,0.3880],[0.0819,0.3912],[0.0822,0.3890],[0.0825,0.3905],[0.0828,0.3885],[0.0832,0.3900],[0.0838,0.3892],[0.0842,0.3905],[0.0848,0.3895],[0.0852,0.3900],[0.0858,0.3892],[0.0862,0.3905],[0.0868,0.3912],[0.0872,0.3925],[0.0878,0.3918],[0.0882,0.3935],[0.0886,0.3948],[0.0890,0.3955],[0.0893,0.3965],[0.0896,0.3985],[0.0900,0.3978],[0.0905,0.3985],[0.0910,0.3990],[0.0915,0.3995],[0.0920,0.4012],[0.0924,0.4005],[0.0928,0.4000],[0.0932,0.4010],[0.0938,0.4005],[0.0942,0.4018],[0.0948,0.4015],[0.0952,0.4025],[0.0958,0.4035],[0.0962,0.4028],[0.0966,0.4018],[0.0970,0.4002],[0.0975,0.3998],[0.0980,0.3995],[0.0986,0.4002],[0.0990,0.3995],[0.0995,0.3998],[0.1000,0.4010],[0.1005,0.3998],[0.1010,0.4002],[0.1015,0.3996],[0.1020,0.3990],[0.1025,0.3985],[0.1030,0.3992],[0.1035,0.3998],[0.1040,0.3995],[0.1045,0.4002],[0.1050,0.3998],[0.1055,0.4005],[0.1060,0.4000],[0.1065,0.4008],[0.1070,0.4002],[0.1075,0.3992],[0.1080,0.4005],[0.1085,0.4015],[0.1090,0.4020],[0.1095,0.4015],[0.1100,0.4022],[0.1105,0.4015],[0.1110,0.4020],[0.1115,0.4028],[0.1120,0.4022],[0.1125,0.4035],[0.1130,0.4030],[0.1135,0.4028],[0.1140,0.4042],[0.1145,0.4038],[0.1150,0.4045],[0.1155,0.4058],[0.1160,0.4052],[0.1165,0.4056],[0.1170,0.4050],[0.1175,0.4058],[0.1178,0.4080],[0.1182,0.4095],[0.1185,0.4105],[0.1190,0.4110],[0.1195,0.4102],[0.1200,0.4112],[0.1205,0.4105],[0.1210,0.4100],[0.1215,0.4112],[0.1220,0.4108],[0.1225,0.4105],[0.1230,0.4100],[0.1235,0.4098],[0.1240,0.4092],[0.1245,0.4098],[0.1250,0.4105],[0.1255,0.4095],[0.1260,0.4100],[0.1265,0.4110],[0.1270,0.4100],[0.1275,0.4108],[0.1280,0.4098],[0.1285,0.4105],[0.1290,0.4112],[0.1295,0.4100],[0.1300,0.4092],[0.1305,0.4085],[0.1310,0.4082],[0.1315,0.4092],[0.1320,0.4100],[0.1325,0.4108],[0.1330,0.4112],[0.1335,0.4100],[0.1340,0.4108],[0.1345,0.4112],[0.1350,0.4105],[0.1355,0.4115],[0.1360,0.4120],[0.1365,0.4118],[0.1368,0.4128],[0.1372,0.4118],[0.1376,0.4110],[0.1380,0.4102],[0.1385,0.4098],[0.1390,0.4095],[0.1395,0.4102],[0.1400,0.4095],[0.1405,0.4110],[0.1408,0.4100],[0.1412,0.4090],[0.1416,0.4085],[0.1420,0.4080],[0.1424,0.4072],[0.1428,0.4062],[0.1430,0.4080],[0.1432,0.4065],[0.1430,0.4045],[0.1428,0.4030],[0.1430,0.4010],[0.1426,0.3995],[0.1428,0.3975],[0.1424,0.3960],[0.1422,0.3950],[0.1418,0.3965],[0.1415,0.3980],[0.1410,0.3970]];
const thalCort150B = [[0.1405,0.3958],[0.1400,0.3965],[0.1395,0.3952],[0.1390,0.3945],[0.1385,0.3960],[0.1380,0.3972],[0.1375,0.3968],[0.1370,0.3980],[0.1365,0.3975],[0.1360,0.3990],[0.1355,0.3985],[0.1350,0.3995],[0.1345,0.3990],[0.1340,0.4005],[0.1335,0.4012],[0.1330,0.4022],[0.1325,0.4028],[0.1320,0.4022],[0.1315,0.4012],[0.1310,0.4000],[0.1305,0.3985],[0.1300,0.3992],[0.1295,0.3975],[0.1290,0.3965],[0.1285,0.3975],[0.1280,0.3962],[0.1275,0.3980],[0.1270,0.3950],[0.1265,0.3975],[0.1260,0.3945],[0.1255,0.3985],[0.1250,0.3940],[0.1245,0.3975],[0.1240,0.3935],[0.1235,0.3960],[0.1230,0.3940],[0.1225,0.3930],[0.1220,0.3915],[0.1215,0.3925],[0.1210,0.3935],[0.1205,0.3950],[0.1200,0.3962],[0.1195,0.3958],[0.1190,0.3972],[0.1185,0.3968],[0.1180,0.3980],[0.1175,0.3985],[0.1170,0.3975],[0.1165,0.3990],[0.1160,0.3978],[0.1155,0.3985],[0.1150,0.3968],[0.1145,0.3990],[0.1140,0.3975],[0.1135,0.4005],[0.1132,0.3965],[0.1128,0.3985],[0.1125,0.3960],[0.1120,0.3978],[0.1115,0.3962],[0.1110,0.3972],[0.1105,0.3958],[0.1100,0.3948],[0.1095,0.3935],[0.1090,0.3942],[0.1085,0.3925],[0.1080,0.3932],[0.1075,0.3915],[0.1070,0.3925],[0.1065,0.3910],[0.1060,0.3930],[0.1055,0.3925],[0.1052,0.3945],[0.1056,0.3960],[0.1060,0.3950],[0.1065,0.3940]];
const thalCort150C = [[0.1070,0.3928],[0.1075,0.3910],[0.1080,0.3900],[0.1085,0.3890],[0.1090,0.3885],[0.1095,0.3892],[0.1100,0.3878],[0.1105,0.3868],[0.1110,0.3880],[0.1115,0.3872],[0.1120,0.3888],[0.1125,0.3895],[0.1130,0.3885],[0.1135,0.3892],[0.1140,0.3878],[0.1145,0.3890],[0.1150,0.3880],[0.1155,0.3875],[0.1160,0.3885],[0.1165,0.3900],[0.1170,0.3912],[0.1175,0.3925],[0.1180,0.3940],[0.1185,0.3935],[0.1190,0.3950],[0.1195,0.3945],[0.1200,0.3932],[0.1205,0.3920],[0.1210,0.3905],[0.1215,0.3895],[0.1220,0.3880],[0.1225,0.3865],[0.1228,0.3850],[0.1232,0.3830],[0.1236,0.3845],[0.1240,0.3825],[0.1245,0.3838],[0.1250,0.3818],[0.1254,0.3830],[0.1258,0.3812],[0.1262,0.3825],[0.1266,0.3840],[0.1270,0.3830],[0.1275,0.3850],[0.1280,0.3862],[0.1285,0.3855],[0.1290,0.3875],[0.1295,0.3890],[0.1300,0.3882],[0.1305,0.3900],[0.1310,0.3912],[0.1315,0.3925],[0.1320,0.3932],[0.1325,0.3945],[0.1330,0.3938],[0.1335,0.3925],[0.1340,0.3930],[0.1345,0.3915],[0.1350,0.3902],[0.1355,0.3890],[0.1358,0.3882],[0.1362,0.3898],[0.1366,0.3912],[0.1370,0.3928],[0.1375,0.3938],[0.1380,0.3950],[0.1385,0.3962],[0.1390,0.3975],[0.1395,0.3980],[0.1400,0.3995],[0.1405,0.4020],[0.1408,0.4045],[0.1412,0.4062],[0.1415,0.4070],[0.1418,0.4058],[0.1420,0.4040],[0.1422,0.4020],[0.1424,0.4000],[0.1426,0.3985],[0.1428,0.3965],[0.1430,0.3950],[0.1428,0.3945],[0.1422,0.3958],[0.1415,0.3945],[0.1408,0.3935],[0.1400,0.3940],[0.1392,0.3925],[0.1385,0.3918],[0.1378,0.3925],[0.1370,0.3915],[0.1362,0.3925],[0.1355,0.3935],[0.1348,0.3928],[0.1340,0.3940],[0.1332,0.3955],[0.1325,0.3968],[0.1318,0.3975],[0.1310,0.3985],[0.1302,0.3975],[0.1295,0.3985],[0.1288,0.3970],[0.1280,0.3960],[0.1272,0.3948],[0.1265,0.3935],[0.1258,0.3945],[0.1250,0.3928],[0.1242,0.3940],[0.1235,0.3925],[0.1228,0.3910],[0.1220,0.3895],[0.1212,0.3905],[0.1205,0.3888],[0.1198,0.3880],[0.1190,0.3895],[0.1182,0.3905],[0.1175,0.3895],[0.1168,0.3910],[0.1160,0.3925],[0.1152,0.3935],[0.1145,0.3950],[0.1138,0.3940],[0.1130,0.3955],[0.1122,0.3962],[0.1115,0.3950],[0.1108,0.3940],[0.1100,0.3925],[0.1092,0.3915],[0.1085,0.3930],[0.1078,0.3920],[0.1070,0.3932],[0.1062,0.3945],[0.1058,0.3930],[0.1055,0.3915],[0.1052,0.3905],[0.1050,0.3930],[0.1050,0.3965]];
// dense vertical scribble in the middle of the lower cluster
const thalCort150D = [[0.1052,0.3940],[0.1056,0.3905],[0.1060,0.3948],[0.1064,0.3915],[0.1068,0.3955],[0.1072,0.3922],[0.1076,0.3962],[0.1080,0.3930],[0.1084,0.3968],[0.1088,0.3935],[0.1092,0.3972],[0.1096,0.3942],[0.1100,0.3978],[0.1104,0.3950],[0.1108,0.3985],[0.1112,0.3958],[0.1116,0.3975],[0.1120,0.3948],[0.1124,0.3968],[0.1128,0.3940],[0.1132,0.3962],[0.1136,0.3945],[0.1140,0.3978],[0.1144,0.3955],[0.1148,0.3985],[0.1152,0.3962],[0.1156,0.3980],[0.1160,0.3955],[0.1164,0.3972],[0.1168,0.3948],[0.1172,0.3965],[0.1176,0.3940],[0.1180,0.3958],[0.1184,0.3932],[0.1188,0.3950],[0.1192,0.3925],[0.1196,0.3945],[0.1200,0.3918],[0.1204,0.3940],[0.1208,0.3912],[0.1212,0.3935],[0.1216,0.3905],[0.1220,0.3930],[0.1224,0.3895],[0.1228,0.3975],[0.1232,0.3902],[0.1236,0.3985],[0.1240,0.3910],[0.1244,0.3992],[0.1248,0.3925],[0.1252,0.3995],[0.1256,0.3920],[0.1260,0.3985],[0.1264,0.3930],[0.1268,0.3990],[0.1272,0.3935],[0.1276,0.3982],[0.1280,0.3940],[0.1284,0.3978],[0.1288,0.3945],[0.1292,0.3975],[0.1296,0.3950],[0.1300,0.3985],[0.1304,0.3955],[0.1308,0.3990],[0.1312,0.3960],[0.1316,0.3978],[0.1320,0.3950],[0.1324,0.3965],[0.1328,0.3940],[0.1332,0.3958],[0.1336,0.3930],[0.1340,0.3945],[0.1345,0.3925],[0.1350,0.3940],[0.1355,0.3915],[0.1360,0.3930]];

const BLUE = "#1f77b4";
const INK = "#333";

function fmt(v, dec) {
    // matplotlib style minus sign
    return v.toFixed(dec).replace("-", "\u2212");
}

function toPoints(list) {
    return list.map(p => ({ x: p[0], y: p[1] }));
}

// top and right spines (chart.js only draws the axis sides)
const framePlugin = {
    id: "frame",
    afterDraw(chart) {
        let a = chart.chartArea;
        let ctx = chart.ctx;
        ctx.save();
        ctx.strokeStyle = INK;
        ctx.lineWidth = 1;
        ctx.strokeRect(a.left, a.top, a.right - a.left, a.bottom - a.top);
        ctx.restore();
    }
};

function axis(min, max, ticks, dec, title, fit) {
    return {
        type: "linear",
        min: min,
        max: max,
        afterBuildTicks: s => { s.ticks = ticks.map(v => ({ value: v })); },
        afterFit: fit,
        grid: { drawOnChartArea: false, drawTicks: true, tickLength: 3.5, color: INK, lineWidth: 1 },
        border: { display: false },
        ticks: {
            autoSkip: false,
            maxRotation: 0,
            padding: 3.5,
            color: INK,
            font: { family: "DejaVu Sans", size: 10.4 },
            callback: v => fmt(v, dec)
        },
        title: {
            display: true,
            text: title,
            color: INK,
            font: { family: "DejaVu Sans", size: 11 },
            padding: { top: 4, bottom: 4 }
        }
    };
}

function makePanel(p) {
    let canvas = document.getElementById(p.id);
    new Chart(canvas, {
        type: "scatter",
        data: {
            datasets: [{
                data: toPoints(p.points),
                showLine: true,
                borderColor: BLUE,
                borderWidth: p.lw,
                borderJoinStyle: "round",
                borderCapStyle: "round",
                pointRadius: 0,
                tension: p.tension,
                fill: false
            }]
        },
        options: {
            responsive: false,
            animation: false,
            events: [],
            layout: { padding: p.pad },
            plugins: { legend: { display: false }, tooltip: { enabled: false } },
            scales: {
                x: axis(p.x[0], p.x[1], p.xTicks, p.xDec, p.xTitle, s => { s.height = p.xH; }),
                y: axis(p.y[0], p.y[1], p.yTicks, p.yDec, p.yTitle, s => { s.width = p.yW; })
            }
        },
        plugins: [framePlugin]
    });
}

makePanel({
    id: "p1", pad: { top: 10.3, left: 8.3, right: 23.3, bottom: 0 }, yW: 55.7, xH: 38,
    x: [-0.01792, 0.01093], y: [0.0094, 0.1767],
    xTicks: ticksGpe025, yTicks: ticksStn025, xDec: 3, yDec: 2,
    xTitle: "GPe activity", yTitle: "STN activity",
    points: [].concat(gpeStn025A, gpeStn025B, gpeStn025C, gpeStn025D, gpeStn025E), lw: 1.5, tension: 0.4
});

makePanel({
    id: "p2", pad: { top: 10.3, left: 9, right: 23.8, bottom: 0 }, yW: 54.5, xH: 38,
    x: [0.00956, 0.07663], y: [0.3679, 0.4567],
    xTicks: ticksThal025, yTicks: ticksCort025, xDec: 2, yDec: 2,
    xTitle: "Thalamic activity", yTitle: "Cortical activity",
    points: [].concat(thalCort025A, thalCort025B, thalCort025C, thalCort025D, thalCort025E), lw: 2, tension: 0
});

makePanel({
    id: "p3", pad: { top: 10, left: 8.3, right: 23.3, bottom: 0 }, yW: 55.7, xH: 38,
    x: [-0.018387, -0.012873], y: [0.01816, 0.08155],
    xTicks: ticksGpe100, yTicks: ticksStn100, xDec: 3, yDec: 2,
    xTitle: "GPe activity", yTitle: "STN activity",
    points: gpeStn100, lw: 1.5, tension: 0.4
});

makePanel({
    id: "p4", pad: { top: 10, left: 0, right: 23.8, bottom: 0 }, yW: 63.5, xH: 38,
    x: [0.05445, 0.12408], y: [0.37795, 0.4199],
    xTicks: ticksThal100, yTicks: ticksCort100, xDec: 2, yDec: 3,
    xTitle: "Thalamic activity", yTitle: "Cortical activity",
    points: [].concat(thalCort100A, thalCort100B, thalCort100C, thalCort100D), lw: 3, tension: 0
});

makePanel({
    id: "p5", pad: { top: 10.3, left: 8.3, right: 23.3, bottom: 0 }, yW: 55.7, xH: 38.3,
    x: [-0.018762, -0.014923], y: [0.01982, 0.06848],
    xTicks: ticksGpe150, yTicks: ticksStn150, xDec: 4, yDec: 2,
    xTitle: "GPe activity", yTitle: "STN activity",
    points: gpeStn150, lw: 1.5, tension: 0.4
});

makePanel({
    id: "p6", pad: { top: 10.3, left: 0.7, right: 23.8, bottom: 0 }, yW: 62.8, xH: 38.3,
    x: [0.07869, 0.14597], y: [0.37962, 0.4145],
    xTicks: ticksThal150, yTicks: ticksCort150, xDec: 2, yDec: 3,
    xTitle: "Thalamic activity", yTitle: "Cortical activity",
    points: [].concat(thalCort150A, thalCort150B, thalCort150C, thalCort150D), lw: 3, tension: 0
});
</script>
</body>
</html>
